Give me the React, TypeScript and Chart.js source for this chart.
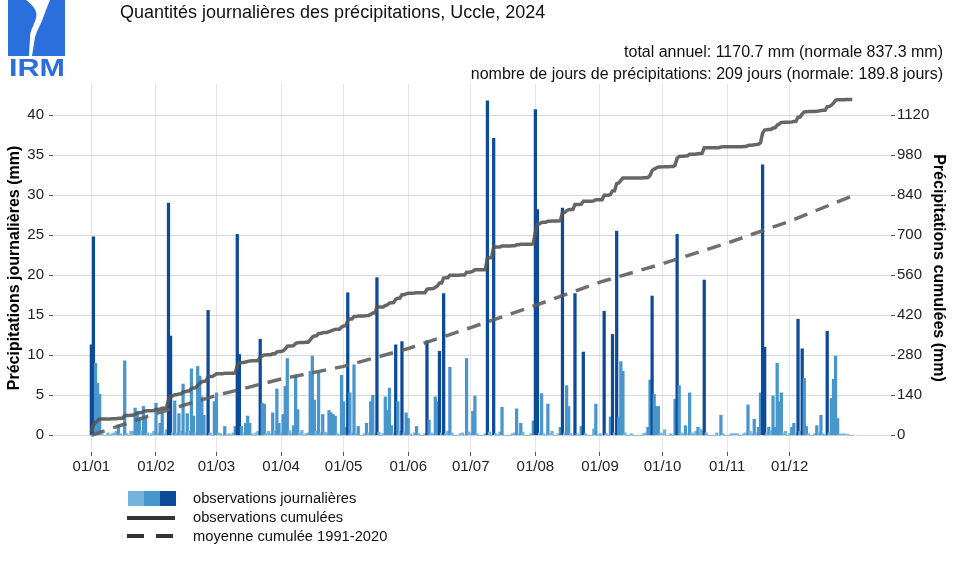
import React, { useEffect, useRef } from 'react';
import { Chart, registerables } from 'chart.js';

Chart.register(...registerables);

// Daily precipitation (mm), Uccle 2024, one array per month
const jan = [11.3, 24.8, 9.0, 6.5, 5.1, 0.2, 0, 0, 0.3, 0, 0.2, 0.3, 0.5, 1.3, 0.2, 0, 9.3, 0.2, 0, 0.5, 0.5, 3.4, 3.0, 2.2, 0.5, 3.6, 2.3, 0.3, 0, 0.2, 0.5];
const feb = [4.0, 0.3, 1.5, 2.8, 0.2, 0.7, 29.0, 12.4, 0.3, 4.3, 0.3, 2.7, 0.5, 6.4, 0.3, 2.7, 0.5, 8.3, 2.4, 0.3, 8.6, 7.4, 4.8, 2.5, 0.2, 15.6, 0.3, 0, 4.2];
const mar = [5.3, 0.3, 0.2, 0, 1.1, 0, 0.2, 0, 0.3, 1.1, 25.1, 10.1, 1.1, 0.3, 1.5, 2.4, 1.5, 0.2, 0, 0.3, 0.5, 12.0, 4.0, 3.9, 0.3, 0.5, 0.2, 2.8, 0.5, 5.8, 1.5];
const apr = [0.3, 2.6, 6.1, 9.6, 0.6, 0.3, 1.2, 7.4, 3.2, 0.3, 0.6, 0, 0.2, 0.3, 8.0, 9.9, 4.4, 0.5, 7.8, 0.3, 2.6, 0.4, 0.3, 3.1, 2.8, 2.6, 2.4, 0.2, 0, 7.5];
const may = [4.2, 1.0, 17.8, 5.3, 0.3, 8.8, 0.2, 1.1, 0, 0, 0.2, 1.5, 0.3, 4.2, 5.0, 0.3, 19.7, 0.4, 0, 0.2, 4.8, 3.1, 5.9, 1.2, 0.3, 11.3, 4.2, 0.5, 11.7, 0.3, 2.8];
const jun = [2.1, 0.2, 0, 0.3, 1.1, 0.2, 0, 0, 0.2, 11.8, 1.9, 0.3, 0.2, 4.8, 4.2, 10.5, 0.3, 17.7, 0.2, 0.5, 8.5, 0.3, 0, 0, 0, 0.2, 0.3, 0, 9.6, 0.4];
const jul = [0.2, 3.0, 4.9, 0.2, 0, 0, 0, 0.2, 41.8, 0.4, 0, 37.1, 0.2, 0, 0.4, 3.5, 0, 0, 0, 0, 0.2, 0.3, 3.3, 0.2, 1.5, 0.4, 0, 0, 0, 0.2, 1.8];
const aug = [40.7, 28.2, 0.3, 5.2, 0.2, 0, 3.9, 0.2, 0.5, 0, 0, 0.2, 1.0, 28.4, 0.3, 6.2, 3.6, 0.2, 0, 17.7, 0.2, 0, 1.1, 10.4, 0.2, 0, 0, 0, 0.8, 3.9, 0];
const sep = [0.2, 0, 15.5, 0.2, 0, 2.3, 12.6, 0.3, 25.5, 2.3, 9.2, 8.0, 0.3, 0, 0, 0.2, 0, 0, 0, 0, 0, 0.2, 0.3, 1.0, 6.9, 17.4, 5.1, 3.6, 3.6, 0.3];
const oct = [0.2, 0.7, 0, 0, 0.2, 0, 4.5, 25.1, 6.2, 0.3, 0.2, 1.2, 0.2, 5.3, 0.3, 0.2, 0.5, 1.0, 0.8, 0.6, 19.4, 0.3, 0, 0, 0, 0, 0.3, 0, 2.5, 0.2, 0];
const nov = [0, 0, 0.2, 0.2, 0.2, 0.2, 0, 0, 0.2, 0.3, 3.8, 0.5, 0.2, 2.0, 0.3, 1.0, 5.3, 33.8, 11.0, 0.3, 1.0, 0.5, 4.9, 1.0, 9.0, 4.2, 5.3, 0.3, 0.5, 0];
const dec = [0.2, 1.0, 1.5, 0.3, 14.5, 0.5, 10.8, 7.1, 1.1, 0.2, 0, 0, 0.2, 1.2, 0.3, 2.5, 0.2, 0, 13.0, 0.3, 4.6, 7.0, 9.9, 2.1, 0.2, 0.1, 0.2, 0.1, 0.1, 0, 0];

// Normal cumulative precipitation 1991-2020 (mm) at month starts (day index)
const normalDays = [0, 31, 60, 91, 121, 152, 182, 213, 244, 274, 305, 335, 365];
const normalCum = [0, 76.1, 139.3, 196.8, 241.0, 303.4, 376.8, 454.2, 535.6, 600.2, 672.4, 748.8, 837.3];

// X tick positions (day index of month starts) and labels
const monthStarts = [0, 31, 60, 91, 121, 152, 182, 213, 244, 274, 305, 335];
const monthLabels = ['01/01', '01/02', '01/03', '01/04', '01/05', '01/06', '01/07', '01/08', '01/09', '01/10', '01/11', '01/12'];
const leftTicks = [0, 5, 10, 15, 20, 25, 30, 35, 40];
const rightTicks = [0, 140, 280, 420, 560, 700, 840, 980, 1120];

const FONT = '"Liberation Sans", Arial, Helvetica, sans-serif';
const C_LIGHT = '#74b3dc';
const C_MED = '#4896cc';
const C_DARK = '#0d4b99';

function barColor(v: number) {
  if (v >= 10) return C_DARK;
  if (v >= 1) return C_MED;
  return C_LIGHT;
}

export default function App() {
  const ref = useRef<HTMLCanvasElement | null>(null);

  useEffect(() => {
    const daily = [...jan, ...feb, ...mar, ...apr, ...may, ...jun, ...jul, ...aug, ...sep, ...oct, ...nov, ...dec];
    let s = 0;
    const cumPts = daily.map((v, i) => {
      s += v;
      return { x: i, y: Math.round(s * 10) / 10 };
    });
    const barPts = daily.map((v, i) => ({ x: i, y: v }));
    const normPts = normalDays.map((d, i) => ({ x: d, y: normalCum[i] }));

    const yMin = -2.09;
    const yMax = 43.89;
    const ratio = 28;
    const tickFont = { family: FONT, size: 15 };

    const chart = new Chart(ref.current as HTMLCanvasElement, {
      type: 'bar',
      data: {
        datasets: [
          {
            type: 'line',
            label: 'observations cumulées',
            data: cumPts,
            yAxisID: 'y1',
            borderColor: 'rgba(85,85,85,0.9)',
            borderWidth: 3.5,
            pointRadius: 0,
            tension: 0,
            order: 0,
          } as any,
          {
            type: 'line',
            label: 'moyenne cumulée 1991-2020',
            data: normPts,
            yAxisID: 'y1',
            borderColor: 'rgba(95,95,95,0.9)',
            borderWidth: 3.5,
            borderDash: [14, 9],
            borderCapStyle: 'butt',
            pointRadius: 0,
            tension: 0,
            order: 1,
          } as any,
          {
            type: 'bar',
            label: 'observations journalières',
            data: barPts,
            yAxisID: 'y',
            backgroundColor: (ctx: any) => barColor(ctx.raw ? ctx.raw.y : 0),
            barThickness: 2.6,
            order: 2,
          } as any,
        ],
      },
      options: {
        animation: false,
        responsive: false,
        maintainAspectRatio: false,
        layout: { padding: { top: 84, bottom: 94, left: 0, right: 0 } },
        plugins: { legend: { display: false }, tooltip: { enabled: false } },
        scales: {
          x: {
            type: 'linear',
            offset: false,
            min: -18.4,
            max: 383.6,
            afterBuildTicks: (sc: any) => {
              sc.ticks = monthStarts.map((v) => ({ value: v }));
            },
            afterFit: (sc: any) => {
              sc.height = 30;
            },
            ticks: {
              autoSkip: false,
              maxRotation: 0,
              font: tickFont,
              color: '#222',
              padding: 2,
              callback: (_v: any, i: number) => monthLabels[i],
            },
            grid: { offset: false, color: '#e4e4e4', lineWidth: 1, tickColor: '#555', tickLength: 4 },
            border: { display: false },
          },
          y: {
            position: 'left',
            min: yMin,
            max: yMax,
            afterBuildTicks: (sc: any) => {
              sc.ticks = leftTicks.map((v) => ({ value: v }));
            },
            afterFit: (sc: any) => {
              sc.width = 53;
            },
            ticks: { font: tickFont, color: '#222', padding: 5, callback: (v: any) => String(v) },
            grid: { color: '#d9d9d9', lineWidth: 1, tickColor: '#555', tickLength: 4 },
            border: { display: false },
            title: {
              display: true,
              text: 'Précipitations journalières (mm)',
              font: { family: FONT, size: 16, weight: 'bold' },
              color: '#000',
              padding: { top: 5, bottom: 0 },
            },
          },
          y1: {
            position: 'right',
            min: yMin * ratio,
            max: yMax * ratio,
            afterBuildTicks: (sc: any) => {
              sc.ticks = rightTicks.map((v) => ({ value: v }));
            },
            afterFit: (sc: any) => {
              sc.width = 69;
            },
            ticks: { font: tickFont, color: '#222', padding: 2, callback: (v: any) => String(v) },
            grid: { drawOnChartArea: false, tickColor: '#555', tickLength: 4 },
            border: { display: false },
            title: {
              display: true,
              text: 'Précipitations cumulées (mm)',
              font: { family: FONT, size: 16, weight: 'bold' },
              color: '#000',
              padding: { top: 12, bottom: 0 },
            },
          },
        },
      } as any,
    });
    return () => chart.destroy();
  }, []);

  const textBase: React.CSSProperties = { position: 'absolute', fontFamily: FONT, color: '#111', whiteSpace: 'nowrap' };

  return (
    <div style={{ position: 'fixed', left: 0, top: 0, width: 960, height: 576, background: '#fff', overflow: 'hidden' }}>
      <canvas ref={ref} width={960} height={576} style={{ position: 'absolute', left: 0, top: 0, width: 960, height: 576 }} />

      {/* IRM logo */}
      <svg style={{ position: 'absolute', left: 8, top: 0 }} width={58} height={78} viewBox="0 0 58 78">
        <rect x={0} y={0} width={57} height={56} fill="#2a6fdb" />
        <path d="M18 0 C 26 6, 30 12, 28 18 C 26 26, 22 30, 22 37 L 21 56 L 24 56 L 27 37 C 29 30, 33 24, 35 18 C 38 10, 40 5, 42 0 Z" fill="#fff" />
        <text x={1} y={76} fill="#2a6fdb" fontFamily={FONT} fontSize={24} fontWeight={600} textLength={56} lengthAdjust="spacingAndGlyphs">IRM</text>
      </svg>

      <div style={{ ...textBase, left: 120, top: 2, fontSize: 18, lineHeight: '21px' }}>
        Quantités journalières des précipitations, Uccle, 2024
      </div>
      <div style={{ ...textBase, right: 17, top: 42, fontSize: 16, lineHeight: '19px', textAlign: 'right' }}>
        total annuel: 1170.7 mm (normale 837.3 mm)
      </div>
      <div style={{ ...textBase, right: 17, top: 64, fontSize: 16, lineHeight: '19px', textAlign: 'right' }}>
        nombre de jours de précipitations: 209 jours (normale: 189.8 jours)
      </div>

      {/* legend */}
      <div style={{ position: 'absolute', left: 128, top: 491, width: 16, height: 15, background: C_LIGHT }} />
      <div style={{ position: 'absolute', left: 144, top: 491, width: 16, height: 15, background: C_MED }} />
      <div style={{ position: 'absolute', left: 160, top: 491, width: 16, height: 15, background: C_DARK }} />
      <div style={{ position: 'absolute', left: 127, top: 516, width: 48, height: 3.5, background: '#333' }} />
      <div style={{ position: 'absolute', left: 127, top: 534, width: 17, height: 3.5, background: '#333' }} />
      <div style={{ position: 'absolute', left: 156, top: 534, width: 17, height: 3.5, background: '#333' }} />
      <div style={{ ...textBase, left: 193, top: 489, fontSize: 14.7, lineHeight: '18px' }}>observations journalières</div>
      <div style={{ ...textBase, left: 193, top: 508, fontSize: 14.7, lineHeight: '18px' }}>observations cumulées</div>
      <div style={{ ...textBase, left: 193, top: 527, fontSize: 14.7, lineHeight: '18px' }}>moyenne cumulée 1991-2020</div>
    </div>
  );
}
